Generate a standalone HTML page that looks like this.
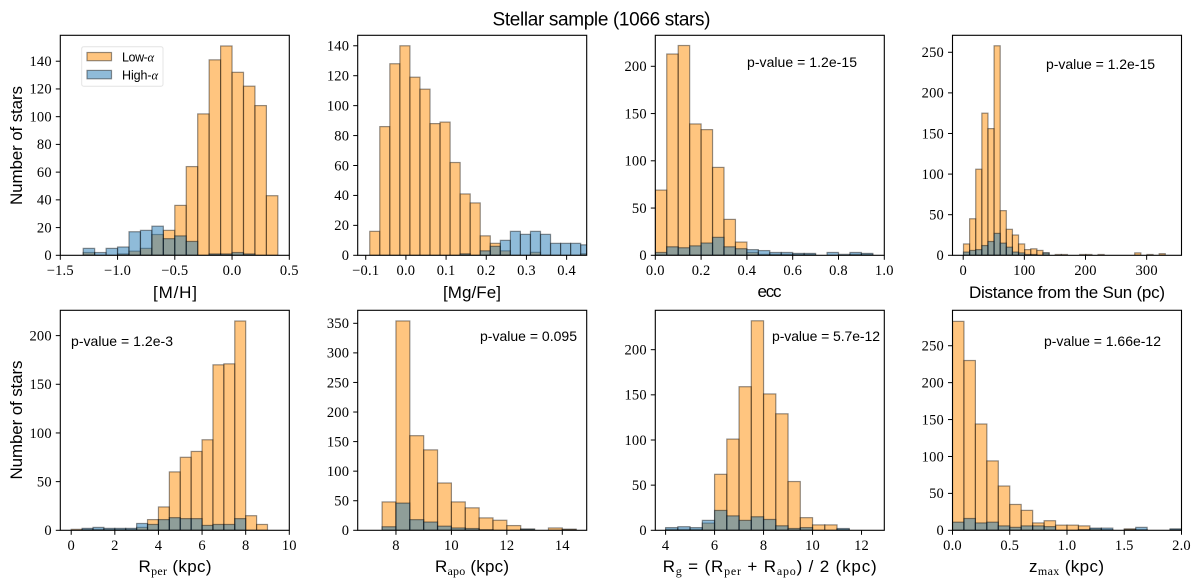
<!DOCTYPE html>
<html lang="en">
<head>
<meta charset="utf-8">
<title>Stellar sample (1066 stars)</title>
<style>
html,body{margin:0;padding:0;background:#fff;}
svg{display:block;filter:blur(0.35px);}
.lab{font-family:"Liberation Sans",sans-serif;fill:#000;}
.ser{font-family:"Liberation Serif",serif;}
.tick{font-family:"Liberation Serif",serif;font-size:14.5px;fill:#000;letter-spacing:0.2px;}
.xl{font-size:17px;text-anchor:middle;}
.yl{font-size:17px;text-anchor:middle;}
.pv{font-size:14px;}
.sub{font-family:"Liberation Serif",serif;font-size:12px;}
</style>
</head>
<body>
<svg id="fig" xmlns="http://www.w3.org/2000/svg" width="1200" height="587" viewBox="0 0 1200 587">
  <g id="plots"></g>

  <text class="lab" x="601.5" y="25.5" font-size="19" text-anchor="middle" textLength="218" lengthAdjust="spacing">Stellar sample (1066 stars)</text>

  <text class="lab yl" transform="translate(22 145.5) rotate(-90)" textLength="119">Number of stars</text>
  <text class="lab yl" transform="translate(22 420) rotate(-90)" textLength="119">Number of stars</text>

  <text class="lab xl" x="175" y="298" textLength="44">[M/H]</text>
  <text class="lab xl" x="472" y="298" textLength="58">[Mg/Fe]</text>
  <text class="lab xl" x="769.5" y="297" textLength="24">ecc</text>
  <text class="lab xl" x="1067" y="298" textLength="196">Distance from the Sun (pc)</text>
  <text class="lab xl" x="175" y="572" textLength="73">R<tspan class="sub" dy="3">per</tspan><tspan dy="-3"> (kpc)</tspan></text>
  <text class="lab xl" x="472" y="572" textLength="74">R<tspan class="sub" dy="3">apo</tspan><tspan dy="-3"> (kpc)</tspan></text>
  <text class="lab xl" x="769.7" y="572" textLength="214">R<tspan class="sub" dy="3">g</tspan><tspan dy="-3"> = (R</tspan><tspan class="sub" dy="3">per</tspan><tspan dy="-3"> + R</tspan><tspan class="sub" dy="3">apo</tspan><tspan dy="-3">) / 2 (kpc)</tspan></text>
  <text class="lab xl" x="1066.5" y="572" textLength="75">z<tspan class="sub" dy="3">max</tspan><tspan dy="-3"> (kpc)</tspan></text>

  <text class="lab pv" x="747" y="67" textLength="110">p-value = 1.2e-15</text>
  <text class="lab pv" x="1046" y="69" textLength="109">p-value = 1.2e-15</text>
  <text class="lab pv" x="71" y="346" textLength="102">p-value = 1.2e-3</text>
  <text class="lab pv" x="480" y="341" textLength="97">p-value = 0.095</text>
  <text class="lab pv" x="772" y="341" textLength="108">p-value = 5.7e-12</text>
  <text class="lab pv" x="1044" y="346" textLength="117">p-value = 1.66e-12</text>

  <g>
    <rect x="81.7" y="46.7" width="81.3" height="39.5" rx="2" fill="#fff" stroke="#e4e4e4" stroke-width="1"/>
    <rect x="87" y="52.5" width="24.5" height="8.2" fill="rgba(255,140,0,0.5)" stroke="rgba(0,0,0,0.42)" stroke-width="1.2"/>
    <text class="lab" x="122" y="61.7" font-size="12.5" textLength="32">Low-<tspan class="ser" font-style="italic">α</tspan></text>
    <rect x="87" y="70.4" width="24.5" height="8.4" fill="rgba(31,119,180,0.5)" stroke="rgba(0,0,0,0.42)" stroke-width="1.2"/>
    <text class="lab" x="122" y="79.5" font-size="12.5" textLength="36">High-<tspan class="ser" font-style="italic">α</tspan></text>
  </g>
</svg>

<script>
// ---- [M/H] ----
const mhBinStart = -1.3;
const mhBinWidth = 0.1;
const mhLow  = [2,0,0,1,3,5,15,18,36,64,102,141,151,132,122,108,43];
const mhHigh = [5,2,5,6,17,18,21,12,14,10,0,1,1,2,1,0,0];
const mhXTicks = [-1.5,-1.0,-0.5,0.0,0.5];
const mhXLabels = ["\u22121.5","\u22121.0","\u22120.5","0.0","0.5"];
const mhYTicks = [0,20,40,60,80,100,120,140];

// ---- [Mg/Fe] ----
const mgBinStart = -0.09;
const mgBinWidth = 0.025;
const mgLow  = [16,86,128,140,119,111,88,89,62,41,35,13,8,3,0,0,2,0,0,0,0,1];
const mgHigh = [0,0,0,0,0,0,0,0,0,1,0,3,6,10,16,14,16,14,8,8,8,7];
const mgXTicks = [-0.1,0.0,0.1,0.2,0.3,0.4];
const mgXLabels = ["\u22120.1","0.0","0.1","0.2","0.3","0.4"];
const mgYTicks = [0,20,40,60,80,100,120,140];

// ---- ecc ----
const eccBinStart = 0;
const eccBinWidth = 0.05;
const eccLow  = [69,213,222,139,133,93,38,14,3,1,1,1,1,1,0,0,0,1,1];
const eccHigh = [3,9,8,10,13,19,9,7,6,5,3,3,2,2,0,3,1,3,2];
const eccXTicks = [0.0,0.2,0.4,0.6,0.8,1.0];
const eccXLabels = ["0.0","0.2","0.4","0.6","0.8","1.0"];
const eccYTicks = [0,50,100,150,200];

// ---- Distance ----
const distBinStart = 0.5;
const distBinWidth = 10;
const distLow  = [14,45,106,175,156,258,55,32,25,14,7,8,6,3,0,1,1,0,0,1,1,0,1,0,0,0,0,0,3,0,1,0,2];
const distHigh = [4,6,7,12,17,27,15,10,4,3,1,1,0,3,0,0,0,0,0,0,0,0,0,0,0,0,0,0,0,0,0,0,0];
const distXTicks = [0,100,200,300];
const distXLabels = ["0","100","200","300"];
const distYTicks = [0,50,100,150,200,250];

// ---- Rper ----
const rperBinStart = 0;
const rperBinWidth = 0.5;
const rperLow  = [1,1,1,1,1,1,3,11,24,60,75,81,93,170,171,215,15,6];
const rperHigh = [0,2,3,2,2,2,7,6,11,13,12,12,5,6,6,12,0,0];
const rperXTicks = [0,2,4,6,8,10];
const rperXLabels = ["0","2","4","6","8","10"];
const rperYTicks = [0,50,100,150,200];

// ---- Rapo ----
const rapoBinStart = 7.5;
const rapoBinWidth = 0.5;
const rapoLow  = [48,354,160,136,80,48,38,21,17,8,2,0,4,2];
const rapoHigh = [6,46,18,14,7,4,3,1,0,0,2,0,0,1];
const rapoXTicks = [8,10,12,14];
const rapoXLabels = ["8","10","12","14"];
const rapoYTicks = [0,50,100,150,200,250,300,350];

// ---- Rg ----
const rgBinStart = 4;
const rgBinWidth = 0.5;
const rgLow  = [1,1,1,8,62,101,159,232,151,129,54,14,6,6,1];
const rgHigh = [3,4,3,11,22,16,11,15,12,5,2,3,0,0,2];
const rgXTicks = [4,6,8,10,12];
const rgXLabels = ["4","6","8","10","12"];
const rgYTicks = [0,50,100,150,200];

// ---- zmax ----
const zBinStart = 0;
const zBinWidth = 0.1;
const zLow  = [283,230,144,94,60,35,27,10,13,7,7,6,2,1,0,2,1,0,0,1];
const zHigh = [11,16,10,11,6,4,6,6,5,0,0,1,3,3,0,1,4,0,0,2];
const zXTicks = [0.0,0.5,1.0,1.5,2.0];
const zXLabels = ["0.0","0.5","1.0","1.5","2.0"];
const zYTicks = [0,50,100,150,200,250];

const NS = "http://www.w3.org/2000/svg";
const root = document.getElementById("plots");
const LOW_FILL = "rgba(255,140,0,0.5)";
const HIGH_FILL = "rgba(31,119,180,0.5)";
const EDGE = "rgba(0,0,0,0.42)";
const AXW = 229, AXH = 220;

function svgEl(tag, parent, name, interactable) {
  const el = document.createElementNS(NS, tag);
  
  
  parent.appendChild(el);
  return el;
}

function drawSeries(g, key, start, width, counts, fill, xs, ys) {
  counts.forEach(function (c, i) {
    if (c <= 0) return;
    const a = xs(start + i * width), b = xs(start + (i + 1) * width);
    const r = svgEl("rect", g, key + "-bar-" + i, "false");
    r.setAttribute("x", a);
    r.setAttribute("y", ys(c));
    r.setAttribute("width", b - a);
    r.setAttribute("height", ys(0) - ys(c));
    r.setAttribute("fill", fill);
    r.setAttribute("stroke", EDGE);
    r.setAttribute("stroke-width", "1.2");
  });
}

function drawPanel(p) {
  const g = svgEl("g", root, p.key + "-panel", "false");
  const xs = function (v) { return p.left + (v - p.xMin) / (p.xMax - p.xMin) * AXW; };
  const ys = function (v) { return p.top + AXH - v / p.yMax * AXH; };

  const clip = document.createElementNS(NS, "clipPath");
  clip.id = "clip-" + p.key;
  const cr = document.createElementNS(NS, "rect");
  cr.setAttribute("x", p.left);
  cr.setAttribute("y", p.top);
  cr.setAttribute("width", AXW);
  cr.setAttribute("height", AXH);
  clip.appendChild(cr);
  g.appendChild(clip);

  const bars = svgEl("g", g, p.key + "-bars", "false");
  bars.setAttribute("clip-path", "url(#clip-" + p.key + ")");
  drawSeries(bars, p.key + "-low", p.start, p.width, p.low, LOW_FILL, xs, ys);
  drawSeries(bars, p.key + "-high", p.start, p.width, p.high, HIGH_FILL, xs, ys);

  const frame = svgEl("rect", g, p.key + "-axes-frame", "false");
  frame.setAttribute("x", p.left);
  frame.setAttribute("y", p.top);
  frame.setAttribute("width", AXW);
  frame.setAttribute("height", AXH);
  frame.setAttribute("fill", "none");
  frame.setAttribute("stroke", "#000");
  frame.setAttribute("stroke-width", "1.1");

  const bottom = p.top + AXH;
  p.xTicks.forEach(function (t, i) {
    const x = xs(t);
    const l = svgEl("line", g, p.key + "-x-tick-" + i, "false");
    l.setAttribute("x1", x);
    l.setAttribute("x2", x);
    l.setAttribute("y1", bottom);
    l.setAttribute("y2", bottom + 4.5);
    l.setAttribute("stroke", "#000");
    l.setAttribute("stroke-width", "1");
    const tx = svgEl("text", g, p.key + "-x-tick-label-" + i, "false");
    tx.setAttribute("class", "tick");
    tx.setAttribute("x", x);
    tx.setAttribute("y", bottom + 19.5);
    tx.setAttribute("text-anchor", "middle");
    tx.textContent = p.xLabels[i];
  });
  p.yTicks.forEach(function (t, i) {
    const y = ys(t);
    const l = svgEl("line", g, p.key + "-y-tick-" + i, "false");
    l.setAttribute("x1", p.left - 4.5);
    l.setAttribute("x2", p.left);
    l.setAttribute("y1", y);
    l.setAttribute("y2", y);
    l.setAttribute("stroke", "#000");
    l.setAttribute("stroke-width", "1");
    const tx = svgEl("text", g, p.key + "-y-tick-label-" + i, "false");
    tx.setAttribute("class", "tick");
    tx.setAttribute("x", p.left - 8.5);
    tx.setAttribute("y", y + 4.8);
    tx.setAttribute("text-anchor", "end");
    tx.textContent = String(t);
  });
}

const panelLefts = [60.3, 357.7, 655.3, 952.5];
const rowTops = [35.3, 310.3];

[
  {key:"metallicity", left:panelLefts[0], top:rowTops[0], xMin:-1.5, xMax:0.5, yMax:158.7, start:mhBinStart, width:mhBinWidth, low:mhLow, high:mhHigh, xTicks:mhXTicks, xLabels:mhXLabels, yTicks:mhYTicks},
  {key:"mgfe", left:panelLefts[1], top:rowTops[0], xMin:-0.12, xMax:0.45, yMax:147, start:mgBinStart, width:mgBinWidth, low:mgLow, high:mgHigh, xTicks:mgXTicks, xLabels:mgXLabels, yTicks:mgYTicks},
  {key:"ecc", left:panelLefts[2], top:rowTops[0], xMin:0, xMax:1, yMax:232.8, start:eccBinStart, width:eccBinWidth, low:eccLow, high:eccHigh, xTicks:eccXTicks, xLabels:eccXLabels, yTicks:eccYTicks},
  {key:"distance", left:panelLefts[3], top:rowTops[0], xMin:-17.5, xMax:357, yMax:270.9, start:distBinStart, width:distBinWidth, low:distLow, high:distHigh, xTicks:distXTicks, xLabels:distXLabels, yTicks:distYTicks},
  {key:"rper", left:panelLefts[0], top:rowTops[1], xMin:-0.5, xMax:10, yMax:226, start:rperBinStart, width:rperBinWidth, low:rperLow, high:rperHigh, xTicks:rperXTicks, xLabels:rperXLabels, yTicks:rperYTicks},
  {key:"rapo", left:panelLefts[1], top:rowTops[1], xMin:6.62, xMax:14.88, yMax:372, start:rapoBinStart, width:rapoBinWidth, low:rapoLow, high:rapoHigh, xTicks:rapoXTicks, xLabels:rapoXLabels, yTicks:rapoYTicks},
  {key:"rg", left:panelLefts[2], top:rowTops[1], xMin:3.58, xMax:12.93, yMax:243.6, start:rgBinStart, width:rgBinWidth, low:rgLow, high:rgHigh, xTicks:rgXTicks, xLabels:rgXLabels, yTicks:rgYTicks},
  {key:"zmax", left:panelLefts[3], top:rowTops[1], xMin:0, xMax:2, yMax:298, start:zBinStart, width:zBinWidth, low:zLow, high:zHigh, xTicks:zXTicks, xLabels:zXLabels, yTicks:zYTicks}
].forEach(drawPanel);
</script>
</body>
</html>
